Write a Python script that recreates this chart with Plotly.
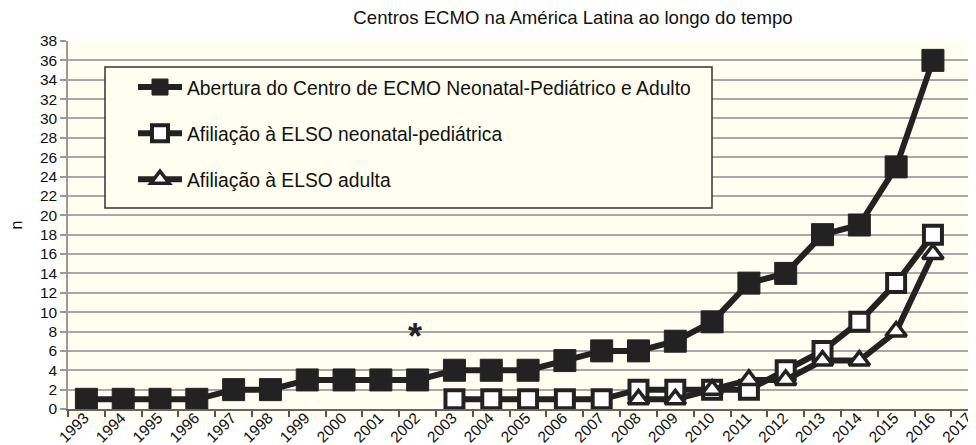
import plotly.graph_objects as go

years = [str(y) for y in range(1993, 2018)]

centros_years = [str(y) for y in range(1993, 2017)]
centros_vals = [1, 1, 1, 1, 2, 2, 3, 3, 3, 3, 4, 4, 4, 5, 6, 6, 7, 9, 13, 14, 18, 19, 25, 36]

neo_years = [str(y) for y in range(2003, 2017)]
neo_vals = [1, 1, 1, 1, 1, 2, 2, 2, 2, 4, 6, 9, 13, 18]

adult_years = [str(y) for y in range(2008, 2017)]
adult_vals = [1, 1, 2, 3, 3, 5, 5, 8, 16]

y_ticks = list(range(0, 39, 2))

star_year = "2002"
star_y = 8.3

names = [
    "Abertura do Centro de ECMO Neonatal-Pediátrico e Adulto",
    "Afiliação à ELSO neonatal-pediátrica",
    "Afiliação à ELSO adulta",
]

INK = "#222222"
BG = "#fffef0"
FONT = "Liberation Sans, Arial, Helvetica, sans-serif"

# page body has an 8px margin: figure is 968x437 so it ends at the window edges
W, H = 968, 437
L, T, B = 60, 33, 36
PW, PH = W - L, H - T - B  # plot area size


def px_x(wx):  # window x -> paper x
    return (wx - 8 - L) / PW


def px_y(wy):  # window y -> paper y
    return (H - B - (wy - 8)) / PH


fig = go.Figure()
fig.add_trace(go.Scatter(
    x=centros_years, y=centros_vals, name=names[0], mode="lines+markers",
    line=dict(color=INK, width=6),
    marker=dict(symbol="square", size=22, color=INK, line=dict(color=INK, width=1)),
    legendgroup="a",
))
fig.add_trace(go.Scatter(
    x=neo_years, y=neo_vals, name=names[1], mode="lines+markers",
    line=dict(color=INK, width=6),
    marker=dict(symbol="square", size=18, color="white", line=dict(color=INK, width=4)),
    legendgroup="b",
))
fig.add_trace(go.Scatter(
    x=adult_years, y=adult_vals, name=names[2], mode="lines+markers",
    line=dict(color=INK, width=6),
    marker=dict(symbol="triangle-up", size=18, color="white", line=dict(color=INK, width=3.5)),
    legendgroup="c",
))

fig.add_annotation(x=years.index(star_year), y=star_y, text="<b>*</b>", showarrow=False,
                   font=dict(size=36, color=INK, family=FONT), yanchor="middle",
                   yshift=-8, xshift=-3)

# cream background extending slightly below/left of the plot area
fig.add_shape(type="rect", xref="paper", yref="paper", x0=px_x(62), x1=1.0,
              y0=px_y(420), y1=1.0,
              fillcolor=BG, line=dict(width=0), layer="below")
# legend frame
fig.add_shape(type="rect", xref="paper", yref="paper", x0=px_x(105), x1=px_x(712),
              y0=px_y(208), y1=px_y(67),
              fillcolor=BG, line=dict(width=1.5, color="#333333"), layer="above")

fig.update_layout(
    width=W, height=H,
    margin=dict(l=L, r=0, t=T, b=B, autoexpand=False),
    paper_bgcolor="white", plot_bgcolor=BG,
    font=dict(family=FONT, color="#111111", size=14),
    title=dict(text="Centros ECMO na América Latina ao longo do tempo",
               x=(573 - 8) / W, xref="container", xanchor="center",
               y=1 - 9 / H, yref="container", yanchor="middle",
               font=dict(size=18.6, family=FONT, color="#111111")),
    showlegend=True,
    legend=dict(x=px_x(105), y=px_y(68), xanchor="left", yanchor="top",
                bgcolor="rgba(0,0,0,0)", borderwidth=0,
                font=dict(size=19.3, family=FONT, color="#111111"),
                traceorder="grouped", tracegroupgap=18, itemwidth=44, indentation=28),
    xaxis=dict(type="category", categoryorder="array", categoryarray=years,
               range=[-0.5, 24.17], tickson="boundaries", ticks="outside", ticklen=6,
               tickcolor="#555555", tickwidth=1.5, tickangle=-45,
               ticklabelstandoff=-8, ticklabelshift=-2,
               showline=True, linecolor="#666666", linewidth=1.5, showgrid=False,
               tickfont=dict(size=15.5), automargin=False),
    yaxis=dict(range=[0, 38], tickvals=y_ticks, ticks="outside", ticklen=6,
               tickcolor="#999999", tickwidth=1.5,
               showline=True, linecolor="#999999", linewidth=1.5,
               showgrid=True, gridcolor="#a8a8a8", gridwidth=1.5, zeroline=False,
               tickfont=dict(size=15.5), automargin=False,
               title=dict(text="n", font=dict(size=16), standoff=26)),
)

fig.write_html("out.html")
